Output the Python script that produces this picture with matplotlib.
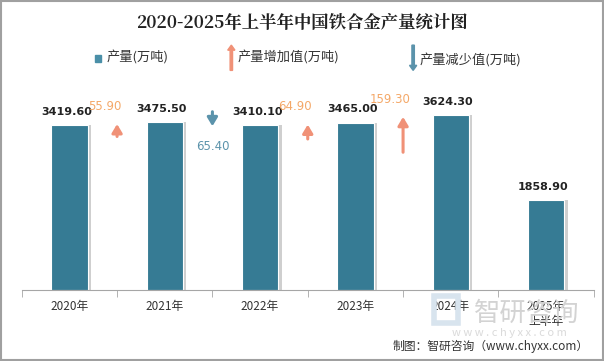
import matplotlib.pyplot as plt
from matplotlib.patches import Rectangle

plt.rcParams['font.family'] = ['Noto Sans CJK SC', 'DejaVu Sans']

years = ["2020年", "2021年", "2022年", "2023年", "2024年", "2025年\n上半年"]
output = [3419.60, 3475.50, 3410.10, 3465.00, 3624.30, 1858.90]
# change vs previous year, drawn between bars (None = no arrow)
increase = [None, 55.90, None, 64.90, 159.30, None]
decrease = [None, None, 65.40, None, None, None]

bar_color = "#367B94"
up_color = "#F09177"
up_text = "#F4A868"
down_color = "#5B93AB"

fig = plt.figure(figsize=(6.04, 3.61), dpi=100)
ax = fig.add_axes([0.036, 0.197, 0.947, 0.609])

x = list(range(len(years)))
# light shadow to the right of each bar
ax.bar([i + 0.035 for i in x], output, width=0.38, color="#CFCFCF", zorder=1)
ax.bar(x, output, width=0.38, color=bar_color, edgecolor="white", linewidth=0.8, zorder=2)

for i, v in enumerate(output):
    ax.annotate(f"{v:.2f}", (i, v), xytext=(-2, 6), textcoords="offset points",
                ha="center", va="bottom", fontsize=8, fontweight="bold", color="#222222",
                family=["DejaVu Sans"])

scale = 4.6
for i in x:
    xp = i - 0.5
    if increase[i] is not None:
        tip = output[i] - 40
        tail = tip - max(increase[i] * scale, 110)
        ax.annotate("", xy=(xp, tip), xytext=(xp, tail),
                    arrowprops=dict(arrowstyle="-|>,head_length=0.5,head_width=0.3",
                                    color=up_color, lw=2.2, shrinkA=0, shrinkB=0), zorder=3)
        ax.annotate(f"{increase[i]:.2f}", (xp, tip), xytext=(-9, 8), textcoords="offset points",
                    ha="center", va="bottom", fontsize=8.5, color=up_text, family=["DejaVu Sans"])
    if decrease[i] is not None:
        tip = output[i] - 20
        tail = tip + max(decrease[i] * scale, 170)
        ax.annotate("", xy=(xp, tip), xytext=(xp, tail),
                    arrowprops=dict(arrowstyle="-|>,head_length=0.5,head_width=0.3",
                                    color=down_color, lw=2.2, shrinkA=0, shrinkB=0), zorder=3)
        ax.annotate(f"{decrease[i]:.2f}", (xp, tip), xytext=(0, -10), textcoords="offset points",
                    ha="center", va="top", fontsize=8.5, color=down_color, family=["DejaVu Sans"])

ax.set_xlim(-0.5, len(years) - 0.5)
ax.set_ylim(0, 4555)
ax.set_yticks([])
for s in ["top", "right", "left"]:
    ax.spines[s].set_visible(False)
ax.spines["bottom"].set_color("#A6A6A6")
ax.set_xticks(x)
ax.set_xticklabels(years, fontsize=8.5, color="#333333")
ax.tick_params(axis="x", length=0, pad=7)
ax.set_xticks([i - 0.5 for i in range(len(years) + 1)], minor=True)
ax.tick_params(axis="x", which="minor", length=5, color="#A6A6A6")

fig.text(0.5, 0.935, "2020-2025年上半年中国铁合金产量统计图", ha="center", va="center",
         fontsize=12.5, fontweight="bold", color="#222222", family=["Noto Serif CJK SC", "Noto Sans CJK SC"])

# legend
fig.patches.append(Rectangle((0.157, 0.828), 0.011, 0.019, transform=fig.transFigure,
                             color="#4A8FA8", figure=fig))
fig.text(0.177, 0.84, "产量(万吨)", ha="left", va="center", fontsize=9.5, color="#333333")
fig.patches.append(plt.Arrow(0.383, 0.805, 0, 0.07, width=0.02, transform=fig.transFigure,
                             color=up_color, figure=fig))
fig.text(0.393, 0.84, "产量增加值(万吨)", ha="left", va="center", fontsize=9.5, color="#333333")
fig.patches.append(plt.Arrow(0.684, 0.875, 0, -0.07, width=0.02, transform=fig.transFigure,
                             color=down_color, figure=fig))
fig.text(0.695, 0.832, "产量减少值(万吨)", ha="left", va="center", fontsize=9.5, color="#333333")

# watermark
fig.patches.append(Rectangle((0.718, 0.105), 0.04, 0.075, transform=fig.transFigure,
                             fill=False, edgecolor="#D8E4EE", linewidth=4, figure=fig, zorder=0))
fig.text(0.872, 0.133, "智研咨询", ha="center", va="center", fontsize=19, color="#D3D3D3", zorder=0)
fig.text(0.843, 0.078, "w w w . c h y x x . c o m", ha="center", va="center", fontsize=8, color="#DADADA", zorder=0)
fig.text(0.975, 0.04, "制图：智研咨询（www.chyxx.com）", ha="right", va="center", fontsize=8.5, color="#333333")

fig.patches.append(Rectangle((0.001, 0.002), 0.997, 0.995, transform=fig.transFigure,
                             fill=False, edgecolor="#A0A0A0", linewidth=1.5, figure=fig))

fig.savefig("out.png", dpi=100)
